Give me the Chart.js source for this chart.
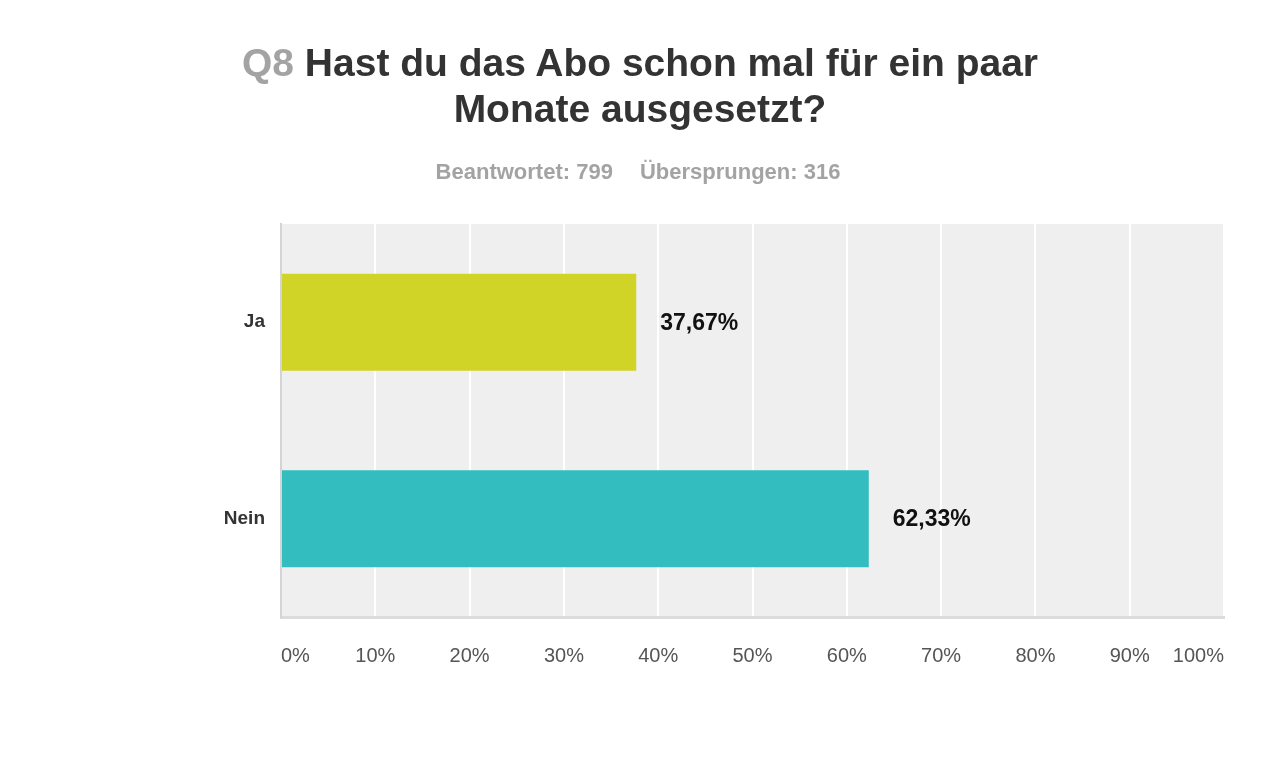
<!DOCTYPE html>
<html>
<head>
<meta charset="utf-8">
<script src="https://cdn.jsdelivr.net/npm/chart.js@4"></script>
<style>
  html, body { margin: 0; padding: 0; background: #fff; }
  #wrap { position: relative; width: 1280px; height: 762px; overflow: hidden; }
  #myChart { position: absolute; left: 0; top: 0; }
  .title {
    position: absolute; left: 0; top: 40px; width: 1280px; text-align: center;
    font: bold 39px/46px "Liberation Sans", Arial, sans-serif; color: #333;
  }
  .title .q { color: #a3a3a3; }
  .sub {
    position: absolute; left: 0; top: 160px; width: 1276px; text-align: center;
    font: bold 22px/24px "Liberation Sans", Arial, sans-serif; color: #a3a3a3;
  }
  .sub span + span { margin-left: 27px; }
</style>
</head>
<body>
<div id="wrap">
  <canvas id="myChart" width="1280" height="762"></canvas>
  <div class="title"><span class="q">Q8</span> Hast du das Abo schon mal für ein paar<br>Monate ausgesetzt?</div>
  <div class="sub"><span>Beantwortet: 799</span><span>Übersprungen: 316</span></div>
</div>
<script>
// Antworten
const categories = ['Ja', 'Nein'];
const values = [37.67, 62.33];
const barColors = ['#cfd427', '#33bdbf'];
const xTicks = [0, 10, 20, 30, 40, 50, 60, 70, 80, 90, 100];

// grauer Hintergrund im Diagrammbereich
const plotBg = {
    id: 'plotBg',
    beforeDraw(chart) {
        const { ctx, chartArea: a } = chart;
        ctx.save();
        ctx.fillStyle = '#efefef';
        ctx.fillRect(a.left, a.top, a.right - a.left, a.bottom - a.top);
        ctx.restore();
    }
};

// Prozentwerte rechts neben den Balken
const valueLabels = {
    id: 'valueLabels',
    afterDatasetsDraw(chart) {
        const ctx = chart.ctx;
        const meta = chart.getDatasetMeta(0);
        ctx.save();
        ctx.font = 'bold 23px "Liberation Sans", Arial, sans-serif';
        ctx.fillStyle = '#111';
        ctx.textAlign = 'left';
        ctx.textBaseline = 'middle';
        meta.data.forEach((bar, i) => {
            const txt = values[i].toFixed(2).replace('.', ',') + '%';
            ctx.fillText(txt, bar.x + 24, bar.y + 1);
        });
        ctx.restore();
    }
};

const ctx = document.getElementById('myChart').getContext('2d');
const myChart = new Chart(ctx, {
    type: 'bar',
    data: {
        labels: categories,
        datasets: [{
            data: values,
            backgroundColor: barColors,
            borderWidth: 0,
            barPercentage: 0.494,
            categoryPercentage: 1
        }]
    },
    options: {
        indexAxis: 'y',
        responsive: false,
        animation: false,
        layout: { padding: { top: 224, right: 56, bottom: 0, left: 0 } },
        plugins: {
            legend: { display: false },
            tooltip: { enabled: false },
            title: { display: false }
        },
        scales: {
            x: {
                min: 0,
                max: 100,
                afterFit(scale) { scale.height = 145; },
                afterBuildTicks(scale) { scale.ticks = xTicks.map(v => ({ value: v })); },
                grid: { color: '#ffffff', lineWidth: 2, drawTicks: false },
                border: { color: '#dcdcdc', width: 3 },
                ticks: {
                    align: 'inner',
                    padding: 27,
                    color: '#555',
                    font: { family: '"Liberation Sans", Arial, sans-serif', size: 20 },
                    callback: v => v + '%'
                }
            },
            y: {
                afterFit(scale) { scale.width = 281; },
                grid: { display: false, drawTicks: false },
                border: { color: '#d4d4d4', width: 2 },
                ticks: {
                    padding: 16,
                    color: '#333',
                    font: { family: '"Liberation Sans", Arial, sans-serif', size: 19, weight: 'bold' }
                }
            }
        }
    },
    plugins: [plotBg, valueLabels]
});
</script>
</body>
</html>
